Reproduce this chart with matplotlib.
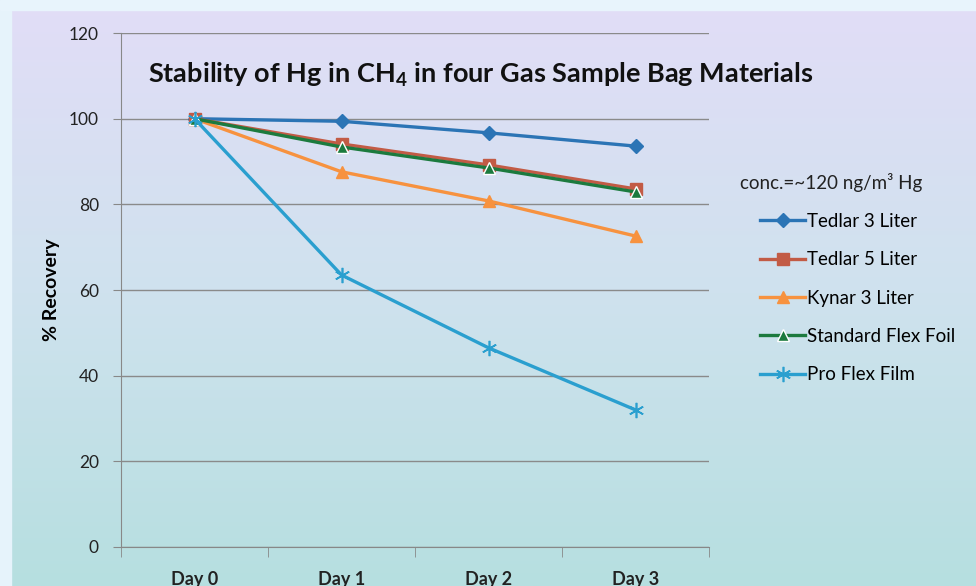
import numpy as np
import matplotlib
matplotlib.use('Agg')
import matplotlib.pyplot as plt
from matplotlib.colors import LinearSegmentedColormap

# ── Data ──────────────────────────────────────────────────────────────────────
days = ['Day 0', 'Day 1', 'Day 2', 'Day 3']
tedlar_3 = [100.0, 99.4, 96.7, 93.6]
tedlar_5 = [100.0, 94.1, 89.2, 83.6]
kynar_3 = [100.0, 87.6, 80.8, 72.6]
std_flex_foil = [100.0, 93.4, 88.5, 82.9]
pro_flex_film = [100.0, 63.5, 46.5, 32.0]
y_ticks = [0, 20, 40, 60, 80, 100, 120]

plt.rcParams['font.family'] = ['Lato', 'DejaVu Sans']

fig = plt.figure(figsize=(9.76, 5.86), dpi=100)

# background: lavender at top fading to pale teal at bottom
bg = fig.add_axes([0, 0, 1, 1], zorder=-10)
cmap = LinearSegmentedColormap.from_list('bg', ['#b6dfe0', '#cfe2ee', '#e2ddf7'])
grad = np.linspace(0, 1, 256).reshape(-1, 1)
bg.imshow(grad, cmap=cmap, aspect='auto', origin='lower', extent=[0, 1, 0, 1])
# pale frame strips on the left and top edge
bg.axvspan(0, 0.011, color='#e6f3fb')
bg.axhspan(0.983, 1.0, color='#e8f4fc')
bg.set_xlim(0, 1)
bg.set_ylim(0, 1)
bg.axis('off')

ax = fig.add_axes([0.124, 0.0666, 0.6025, 0.877])
ax.patch.set_alpha(0)

x = np.arange(len(days))
series = [
    ('Tedlar 3 Liter', tedlar_3, '#2b74b5', dict(marker='D', ms=7)),
    ('Tedlar 5 Liter', tedlar_5, '#c25b45', dict(marker='s', ms=8)),
    ('Kynar 3 Liter', kynar_3, '#f7923f', dict(marker='^', ms=9)),
    ('Standard Flex Foil', std_flex_foil, '#1c7a3e',
     dict(marker='^', ms=8, markeredgecolor='white', markeredgewidth=1.0)),
    ('Pro Flex Film', pro_flex_film, '#2a9fcf',
     dict(marker=(6, 2, 0), ms=11, markeredgewidth=1.2)),
]
for name, vals, col, mk in series:
    ax.plot(x, vals, color=col, lw=2.4, label=name, markerfacecolor=col,
            **({'markeredgecolor': col} | mk))

ax.set_xlim(-0.5, len(days) - 0.5)
ax.set_ylim(0, 120)
ax.set_yticks(y_ticks)
ax.set_yticklabels([str(v) for v in y_ticks], fontsize=12.5, color='#222222')
ax.tick_params(axis='y', length=6, color='#888888', pad=10)

ax.set_xticks(x)
ax.set_xticklabels(days, fontsize=13, fontweight='bold', color='#222222')
ax.set_xticks(np.arange(-0.5, len(days)), minor=True)
ax.tick_params(axis='x', which='major', length=0, pad=17)
ax.tick_params(axis='x', which='minor', length=7, color='#888888')

ax.grid(axis='y', color='#8a8a8a', lw=1.0)
ax.set_axisbelow(True)
for s in ['top', 'right']:
    ax.spines[s].set_visible(False)
for s in ['left', 'bottom']:
    ax.spines[s].set_color('#888888')

ax.set_ylabel('% Recovery', fontsize=14, fontweight='bold', labelpad=6)

fig.text(0.152, 0.872, 'Stability of Hg in CH$_\\mathregular{4}$ in four Gas Sample Bag Materials',
         fontsize=19.5, fontweight='bold', color='#111111', va='center')

# legend title sits a little left of the entries, so draw it as its own text
fig.text(740 / 976, 1 - 183 / 586, 'conc.=~120 ng/m³ Hg', fontsize=13.5,
         color='#222222', va='center', ha='left')
ax.legend(loc='upper left', bbox_to_anchor=(1.087, 0.65), frameon=False,
          fontsize=13.5, handlelength=2.4, handletextpad=0.1, labelspacing=1.14,
          borderpad=0, borderaxespad=0)

fig.savefig('out.png', dpi=100)
